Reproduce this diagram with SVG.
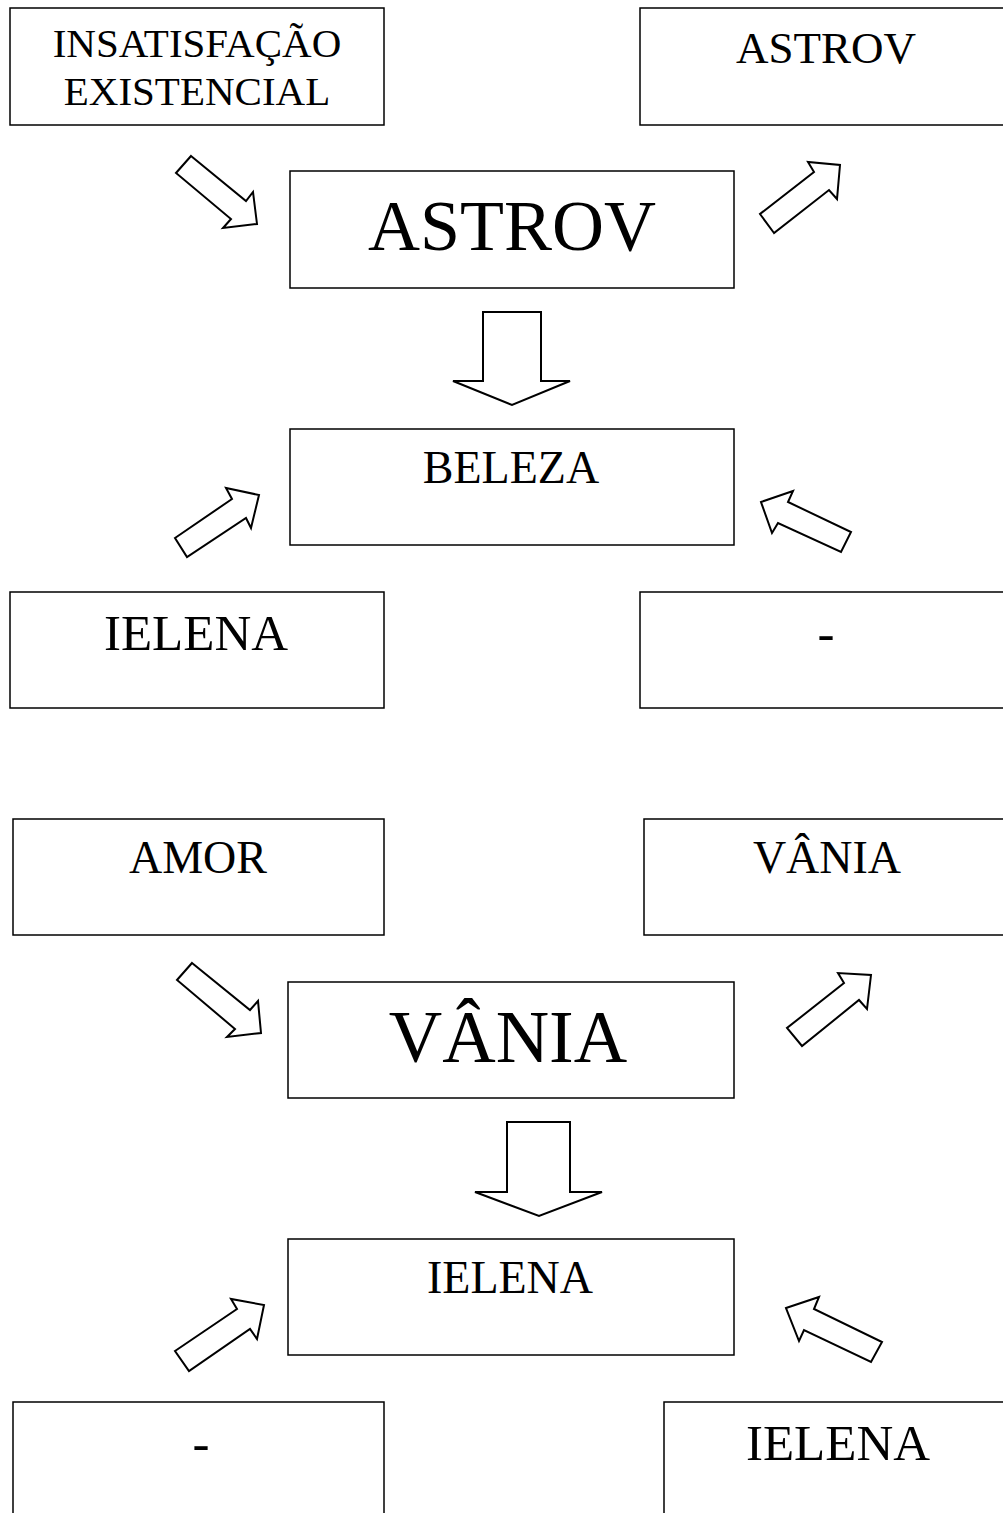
<svg xmlns="http://www.w3.org/2000/svg" width="1003" height="1513" viewBox="0 0 1003 1513">
<style>
rect{fill:#fff;stroke:#000;stroke-width:1.5}
.ar{fill:#fff;stroke:#000;stroke-width:2;stroke-linejoin:miter}
text{font-family:"Liberation Serif","Times New Roman",serif;fill:#000;text-anchor:middle}
</style>
<rect x="0" y="0" width="1003" height="1513" style="stroke:none"/>
<g id="n_insatisfacao"><rect x="10" y="8" width="374" height="117"/><text x="197" y="57" font-size="41">INSATISFAÇÃO</text><text x="197" y="105" font-size="41">EXISTENCIAL</text></g>
<g id="n_astrov_out"><rect x="640" y="8" width="370" height="117"/><text x="826" y="63" font-size="45">ASTROV</text></g>
<g id="n_astrov"><rect x="290" y="171" width="444" height="117"/><text x="512" y="250" font-size="72">ASTROV</text></g>
<g id="n_beleza"><rect x="290" y="429" width="444" height="116"/><text x="511" y="483" font-size="46">BELEZA</text></g>
<g id="n_ielena1"><rect x="10" y="592" width="374" height="116"/><text x="196" y="650" font-size="51">IELENA</text></g>
<g id="n_dash1"><rect x="640" y="592" width="370" height="116"/><text x="826" y="650" font-size="51">-</text></g>
<g id="n_amor"><rect x="13" y="819" width="371" height="116"/><text x="198" y="873" font-size="46">AMOR</text></g>
<g id="n_vania_out"><rect x="644" y="819" width="366" height="116"/><text x="827" y="873" font-size="46">VÂNIA</text></g>
<g id="n_vania"><rect x="288" y="982" width="446" height="116"/><text x="508" y="1062" font-size="74">VÂNIA</text></g>
<g id="n_ielena2"><rect x="288" y="1239" width="446" height="116"/><text x="510" y="1293" font-size="46">IELENA</text></g>
<g id="n_dash2"><rect x="13" y="1402" width="371" height="130"/><text x="201" y="1460" font-size="51">-</text></g>
<g id="n_ielena3"><rect x="664" y="1402" width="346" height="130"/><text x="838" y="1460" font-size="51">IELENA</text></g>
<g id="connectors">
<polygon class="ar" points="191,156 246,201 253,192 257,224 223,228 231,219 176,173"/>
<polygon class="ar" points="774,233 760,214 814,172 808,162 840,165 837,199 829,190"/>
<polygon class="ar" points="483,312 541,312 541,381 570,381 512,405 453,381 483,381"/>
<polygon class="ar" points="175,538 232,499 226,488 259,495 251,528 246,518 187,557"/>
<polygon class="ar" points="761,502 793,491 788,502 851,532 841,552 778,523 772,533"/>
<polygon class="ar" points="192,963 250,1010 258,1001 261,1033 227,1037 235,1029 177,980"/>
<polygon class="ar" points="802,1046 787,1028 844,983 838,973 871,975 867,1009 859,1000"/>
<polygon class="ar" points="507,1122 570,1122 570,1192 602,1192 539,1216 475,1192 507,1192"/>
<polygon class="ar" points="175,1351 237,1309 231,1299 264,1305 257,1339 250,1329 189,1371"/>
<polygon class="ar" points="786,1308 819,1297 814,1309 882,1342 871,1362 804,1330 799,1341"/>
</g>
</svg>
